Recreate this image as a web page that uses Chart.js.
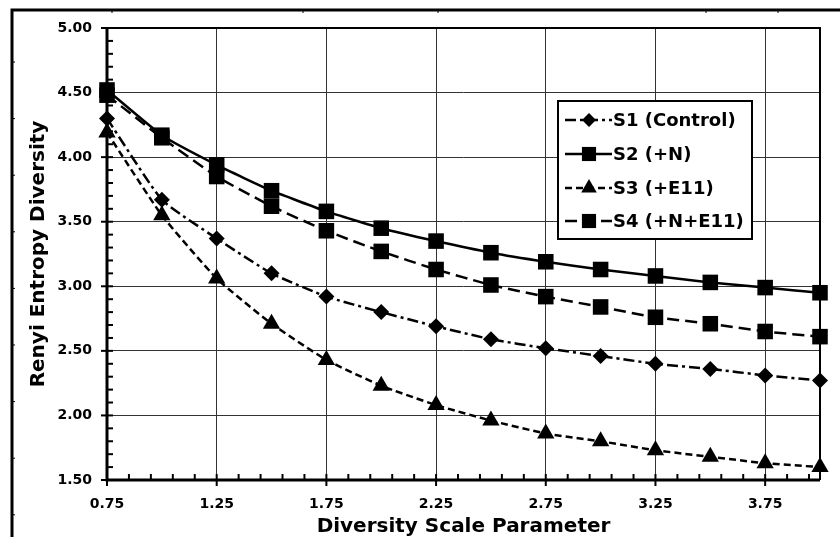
<!DOCTYPE html>
<html>
<head>
<meta charset="utf-8">
<script src="https://cdn.jsdelivr.net/npm/chart.js@4/dist/chart.umd.min.js"></script>
<style>
  html, body { margin: 0; padding: 0; background: #fff; }
  #wrap { width: 840px; height: 537px; }
</style>
</head>
<body>
<div id="wrap"><canvas id="chart" width="840" height="537"></canvas></div>
<script>
// x values (diversity scale parameter)
var scaleParam = [0.75, 1.0, 1.25, 1.5, 1.75, 2.0, 2.25, 2.5, 2.75, 3.0, 3.25, 3.5, 3.75, 4.0];

// series values
var s1Control = [4.30, 3.67, 3.37, 3.10, 2.92, 2.80, 2.69, 2.59, 2.52, 2.46, 2.40, 2.36, 2.31, 2.27];
var s2N = [4.52, 4.17, 3.94, 3.74, 3.58, 3.45, 3.35, 3.26, 3.19, 3.13, 3.08, 3.03, 2.99, 2.95];
var s3E11 = [4.19, 3.55, 3.06, 2.71, 2.43, 2.23, 2.08, 1.96, 1.86, 1.80, 1.73, 1.68, 1.63, 1.60];
var s4NE11 = [4.48, 4.15, 3.85, 3.62, 3.43, 3.27, 3.13, 3.01, 2.92, 2.84, 2.76, 2.71, 2.65, 2.61];

var seriesLabels = ["S1 (Control)", "S2 (+N)", "S3 (+E11)", "S4 (+N+E11)"];

// axis ranges and tick steps
var xMin = 0.75, xMax = 4.0, xMajor = 0.5, xMinor = 0.1;
var yMin = 1.5, yMax = 5.0, yMajor = 0.5, yMinor = 0.1;

var boldFont = "'DejaVu Sans', sans-serif";

function toPoints(xs, ys) {
  var pts = [];
  for (var i = 0; i < xs.length; i++) pts.push({ x: xs[i], y: ys[i] });
  return pts;
}

function buildTicks(min, max, step) {
  var arr = [];
  for (var k = 0; min + k * step <= max + 1e-9; k++) {
    arr.push({ value: Math.round((min + k * step) * 1000) / 1000 });
  }
  return arr;
}

function isMajor(v, min, step) {
  var r = (v - min) / step;
  return Math.abs(r - Math.round(r)) < 1e-6;
}

function makeDataset(label, values, style, radius, dash) {
  return {
    label: label,
    data: toPoints(scaleParam, values),
    borderColor: "#000",
    backgroundColor: "#000",
    borderWidth: 2.5,
    borderDash: dash,
    pointStyle: style,
    pointRadius: radius,
    pointHoverRadius: radius,
    pointBorderWidth: 0,
    tension: 0.15,
    clip: false
  };
}

// draws the outer frame, the plot box and the axis tick marks
var framePlugin = {
  id: "frame",
  beforeDatasetsDraw: function (chart) {
    var ctx = chart.ctx;
    var a = chart.chartArea;
    var xs = chart.scales.x, ys = chart.scales.y;
    ctx.save();
    ctx.strokeStyle = "#000";

    // outer figure frame
    ctx.lineWidth = 3;
    ctx.beginPath();
    ctx.moveTo(12, 537);
    ctx.lineTo(12, 10);
    ctx.lineTo(840, 10);
    ctx.stroke();
    ctx.lineWidth = 1;
    for (var fy = 62; fy < 537; fy += 56.6) {
      ctx.beginPath();
      ctx.moveTo(12, fy);
      ctx.lineTo(15, fy);
      ctx.stroke();
    }
    [112, 303, 438, 706, 778].forEach(function (fx) {
      ctx.beginPath();
      ctx.moveTo(fx, 10);
      ctx.lineTo(fx, 13);
      ctx.stroke();
    });

    // top and right of plot box
    ctx.lineWidth = 2;
    ctx.beginPath();
    ctx.moveTo(a.left, a.top);
    ctx.lineTo(a.right, a.top);
    ctx.lineTo(a.right, a.bottom);
    ctx.stroke();

    // left and bottom axis lines
    ctx.lineWidth = 3;
    ctx.beginPath();
    ctx.moveTo(a.left, a.top);
    ctx.lineTo(a.left, a.bottom);
    ctx.lineTo(a.right, a.bottom);
    ctx.stroke();

    // tick marks
    ctx.lineWidth = 2;
    xs.ticks.forEach(function (t) {
      var px = xs.getPixelForValue(t.value);
      var major = isMajor(t.value, xMin, xMajor);
      ctx.beginPath();
      ctx.moveTo(px, a.bottom - 6);
      ctx.lineTo(px, a.bottom + (major ? 6 : 0));
      ctx.stroke();
    });
    ys.ticks.forEach(function (t) {
      var py = ys.getPixelForValue(t.value);
      var major = isMajor(t.value, yMin, yMajor);
      ctx.beginPath();
      ctx.moveTo(a.left - (major ? 6 : 0), py);
      ctx.lineTo(a.left + 6, py);
      ctx.stroke();
    });
    ctx.restore();
  }
};

function drawMarker(ctx, style, radius, x, y) {
  if (Chart.helpers && Chart.helpers.drawPoint) {
    Chart.helpers.drawPoint(ctx, { pointStyle: style, radius: radius, rotation: 0, borderWidth: 0 }, x, y);
    return;
  }
  ctx.beginPath();
  ctx.arc(x, y, radius, 0, Math.PI * 2);
  ctx.fill();
}

// boxed legend inside the plot
var legendPlugin = {
  id: "boxLegend",
  afterDatasetsDraw: function (chart) {
    var ctx = chart.ctx;
    var bx = 558, by = 101, bw = 194, bh = 138;
    var rows = [120, 154, 188, 221];
    ctx.save();
    ctx.fillStyle = "#fff";
    ctx.fillRect(bx, by, bw, bh);
    ctx.strokeStyle = "#000";
    ctx.lineWidth = 2;
    ctx.strokeRect(bx, by, bw, bh);

    chart.data.datasets.forEach(function (ds, i) {
      var y = rows[i];
      ctx.strokeStyle = "#000";
      ctx.fillStyle = "#000";
      ctx.lineWidth = 2.5;
      ctx.setLineDash(ds.borderDash || []);
      ctx.beginPath();
      ctx.moveTo(565, y);
      ctx.lineTo(612, y);
      ctx.stroke();
      ctx.setLineDash([]);
      drawMarker(ctx, ds.pointStyle, ds.pointRadius - 1, 589, y);
      ctx.font = "bold 18px " + boldFont;
      ctx.textBaseline = "middle";
      ctx.textAlign = "left";
      ctx.fillText(ds.label, 613, y + 1);
    });
    ctx.restore();
  }
};

var ctx = document.getElementById("chart").getContext("2d");
new Chart(ctx, {
  type: "line",
  data: {
    datasets: [
      makeDataset(seriesLabels[0], s1Control, "rectRot", 8, [11, 4, 3, 4]),
      makeDataset(seriesLabels[1], s2N, "rect", 11, []),
      makeDataset(seriesLabels[2], s3E11, "triangle", 10, [7, 4]),
      makeDataset(seriesLabels[3], s4NE11, "rect", 11, [12, 6])
    ]
  },
  options: {
    responsive: false,
    animation: false,
    events: [],
    layout: { padding: { left: 22, top: 28, right: 20, bottom: 0 } },
    plugins: {
      legend: { display: false },
      tooltip: { enabled: false }
    },
    scales: {
      x: {
        type: "linear",
        min: xMin,
        max: xMax,
        afterBuildTicks: function (scale) {
          scale.ticks = buildTicks(xMin, xMax, xMinor);
        },
        afterFit: function (scale) { scale.height = 57; },
        border: { display: false },
        grid: {
          drawTicks: false,
          lineWidth: 1,
          color: function (c) {
            return c.tick && isMajor(c.tick.value, xMin, xMajor) ? "#333" : "rgba(0,0,0,0)";
          }
        },
        ticks: {
          autoSkip: false,
          maxRotation: 0,
          padding: 16,
          color: "#000",
          font: { family: boldFont, size: 14, weight: "bold" },
          callback: function (v) {
            return isMajor(v, xMin, xMajor) ? v.toFixed(2) : "";
          }
        },
        title: {
          display: true,
          text: "Diversity Scale Parameter",
          color: "#000",
          padding: { top: 0, bottom: 0 },
          font: { family: boldFont, size: 20, weight: "bold", lineHeight: 1 }
        }
      },
      y: {
        min: yMin,
        max: yMax,
        afterBuildTicks: function (scale) {
          scale.ticks = buildTicks(yMin, yMax, yMinor);
        },
        afterFit: function (scale) { scale.width = 85; },
        border: { display: false },
        grid: {
          drawTicks: false,
          lineWidth: 1,
          color: function (c) {
            return c.tick && isMajor(c.tick.value, yMin, yMajor) ? "#333" : "rgba(0,0,0,0)";
          }
        },
        ticks: {
          autoSkip: false,
          padding: 15,
          color: "#000",
          font: { family: boldFont, size: 14, weight: "bold" },
          callback: function (v) {
            return isMajor(v, yMin, yMajor) ? v.toFixed(2) : "";
          }
        },
        title: {
          display: true,
          text: "Renyi Entropy Diversity",
          color: "#000",
          padding: { top: 7, bottom: 0 },
          font: { family: boldFont, size: 20, weight: "bold", lineHeight: 1 }
        }
      }
    }
  },
  plugins: [framePlugin, legendPlugin]
});
</script>
</body>
</html>
